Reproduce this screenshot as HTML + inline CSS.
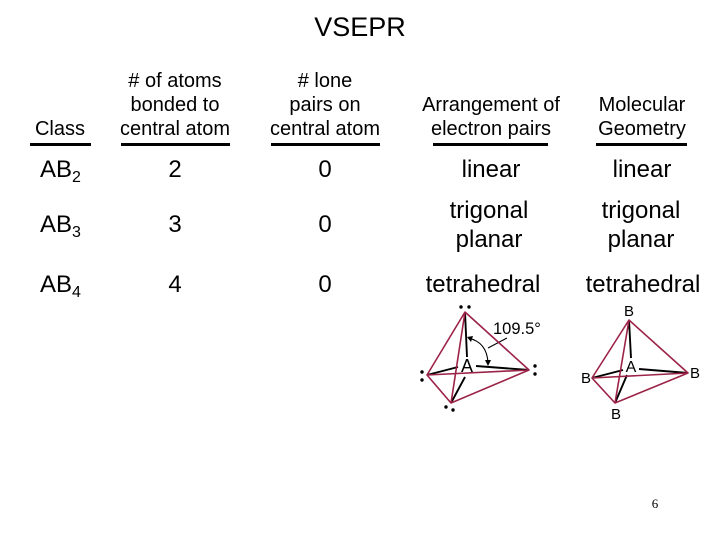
<!DOCTYPE html>
<html><head><meta charset="utf-8"><style>
html,body{margin:0;padding:0;background:#fff}
svg{display:block}
text{font-family:"Liberation Sans",sans-serif;fill:#000}
.h{font-size:20px;text-anchor:middle}
.b{font-size:24px;text-anchor:middle}
.l{font-size:24px}
.s{font-size:16px}
.p{fill:none;stroke:#9c2348;stroke-width:1.6;stroke-linejoin:round}
.k{stroke:#000;stroke-width:1.9;fill:none}
.t{stroke:#000;stroke-width:1.1;fill:none}
</style></head><body>
<svg width="720" height="540" viewBox="0 0 720 540" xmlns="http://www.w3.org/2000/svg">
<text x="360" y="36" text-anchor="middle" font-size="27">VSEPR</text>

<text class="h" x="60" y="135">Class</text>
<text class="h" x="175" y="87"># of atoms</text>
<text class="h" x="175" y="111">bonded to</text>
<text class="h" x="175" y="135">central atom</text>
<text class="h" x="325" y="87"># lone</text>
<text class="h" x="325" y="111">pairs on</text>
<text class="h" x="325" y="135">central atom</text>
<text class="h" x="491" y="111">Arrangement of</text>
<text class="h" x="491" y="135">electron pairs</text>
<text class="h" x="642" y="111">Molecular</text>
<text class="h" x="642" y="135">Geometry</text>

<g fill="#000">
<rect x="30" y="143" width="61" height="3"/>
<rect x="121" y="143" width="109" height="3"/>
<rect x="271" y="143" width="109" height="3"/>
<rect x="433" y="143" width="115" height="3"/>
<rect x="596" y="143" width="91" height="3"/>
</g>

<text class="l" x="40" y="177">AB<tspan class="s" dy="5">2</tspan></text>
<text class="b" x="175" y="177">2</text>
<text class="b" x="325" y="177">0</text>
<text class="b" x="491" y="177">linear</text>
<text class="b" x="642" y="177">linear</text>

<text class="l" x="40" y="232">AB<tspan class="s" dy="5">3</tspan></text>
<text class="b" x="175" y="232">3</text>
<text class="b" x="325" y="232">0</text>
<text class="b" x="489" y="218">trigonal</text>
<text class="b" x="489" y="247">planar</text>
<text class="b" x="641" y="218">trigonal</text>
<text class="b" x="641" y="247">planar</text>

<text class="l" x="40" y="292">AB<tspan class="s" dy="5">4</tspan></text>
<text class="b" x="175" y="292">4</text>
<text class="b" x="325" y="292">0</text>
<text class="b" x="483" y="292">tetrahedral</text>
<text class="b" x="643" y="292">tetrahedral</text>

<!-- left tetrahedron -->
<path class="k" d="M465 312 L467 357 M458 367 L427 375 M465 377 L451 403 M476 366 L529 370"/>
<path class="t" d="M468 338 Q487 342 488 363 M488 348 L507 338"/>
<path d="M467 337 L473 336 L471 342Z M485 360 L491 360 L488 366Z" fill="#000"/>
<path class="p" d="M465 312 L427 375 L451 403 Z M465 312 L529 370 L451 403 M427 375 L529 370"/>
<text x="467" y="372" text-anchor="middle" font-size="18">A</text>
<text x="493" y="334" font-size="16.5">109.5°</text>
<g fill="#000">
<circle cx="461" cy="307" r="1.7"/><circle cx="469" cy="307" r="1.7"/>
<circle cx="422" cy="372" r="1.7"/><circle cx="422" cy="380" r="1.7"/>
<circle cx="535" cy="366" r="1.7"/><circle cx="535" cy="374" r="1.7"/>
<circle cx="446" cy="407" r="1.7"/><circle cx="453" cy="410" r="1.7"/>
</g>

<!-- right tetrahedron -->
<path class="k" d="M629 320 L631 358 M623 370 L592 378 M627 375 L615 403 M639 369 L688 373"/>
<path class="p" d="M629 320 L592 378 L615 403 Z M629 320 L688 373 L615 403 M592 378 L688 373"/>
<text x="631" y="372" text-anchor="middle" font-size="16">A</text>
<g font-size="15" text-anchor="middle">
<text x="629" y="316">B</text>
<text x="586" y="383">B</text>
<text x="695" y="378">B</text>
<text x="616" y="419">B</text>
</g>

<text x="655" y="508" text-anchor="middle" font-size="13" style="font-family:'Liberation Serif',serif">6</text>
</svg>
</body></html>
